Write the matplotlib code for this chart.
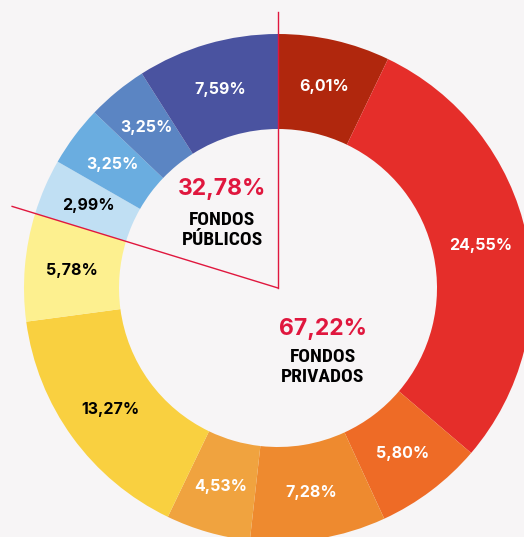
import numpy as np
import matplotlib
matplotlib.use('Agg')
import matplotlib.pyplot as plt
from matplotlib import font_manager

# slices clockwise from the top
labels = ['6,01%', '24,55%', '5,80%', '7,28%', '4,53%', '13,27%', '5,78%',
          '2,99%', '3,25%', '3,25%', '7,59%']
values = [6.01, 24.55, 5.80, 7.28, 4.53, 13.27, 5.78, 2.99, 3.25, 3.25, 7.59]
colors = ['#b0270d', '#e52e2a', '#ee6b26', '#ee8a2f', '#f0a33f', '#f9d040',
          '#fdf08f', '#c0dff3', '#6aade0', '#5b85c3', '#4a53a0']
text_colors = ['white', 'white', 'white', 'white', 'white', 'black', 'black',
               'black', 'white', 'white', 'white']

public_total = '32,78%'
private_total = '67,22%'
n_private = 7

bg = '#f7f5f6'
accent = '#e0173e'

# pick a narrow face for the "FONDOS ..." captions if one is around
names = {f.name for f in font_manager.fontManager.ttflist}
narrow = [n for n in ['Roboto Condensed', 'Liberation Sans Narrow',
                      'DejaVu Sans Condensed'] if n in names]
cond_family = narrow + ['DejaVu Sans']

W, H = 524, 537
cx, cy = 278, 288      # donut centre in pixels
R = 254                # outer radius in pixels

fig = plt.figure(figsize=(W / 100, H / 100), dpi=100, facecolor=bg)
ax = fig.add_axes([0, 0, 1, 1])
ax.set_facecolor(bg)

wedges, _ = ax.pie(values, colors=colors, startangle=90, counterclock=False,
                   radius=1, wedgeprops=dict(width=95 / R, linewidth=0))

ax.set_aspect('auto')
ax.set_xlim(-cx / R, (W - cx) / R)
ax.set_ylim(-(H - cy) / R, cy / R)
ax.axis('off')

# percentage labels in the ring
for w, lab, tc in zip(wedges, labels, text_colors):
    ang = np.deg2rad((w.theta1 + w.theta2) / 2)
    r = 0.815
    ax.text(r * np.cos(ang), r * np.sin(ang), lab, color=tc, ha='center',
            va='center', fontsize=11.5, fontweight='bold', family='Inter')

# split lines between public and private funds
for ang_deg, length in [(90, 276 / R), (wedges[n_private].theta2, 1.095)]:
    a = np.deg2rad(ang_deg)
    ax.plot([0, length * np.cos(a)], [0, length * np.sin(a)], color=accent,
            lw=1.0, zorder=5)

# centre texts
ax.text(-0.22, 0.39, public_total, color=accent, ha='center', va='center',
        fontsize=16.5, fontweight='bold', family='Inter')
ax.text(-0.22, 0.228, 'FONDOS\nPÚBLICOS', color='black', ha='center',
        va='center', fontsize=14, fontweight='bold', fontstretch='condensed',
        family=cond_family, linespacing=1.15)
ax.text(0.177, -0.16, private_total, color=accent, ha='center', va='center',
        fontsize=16.5, fontweight='bold', family='Inter')
ax.text(0.177, -0.311, 'FONDOS\nPRIVADOS', color='black', ha='center',
        va='center', fontsize=14, fontweight='bold', fontstretch='condensed',
        family=cond_family, linespacing=1.15)

fig.savefig('out.png', dpi=100, facecolor=bg)
